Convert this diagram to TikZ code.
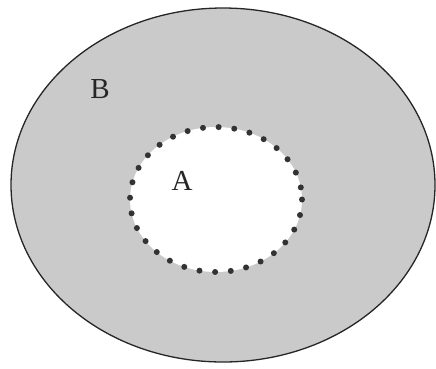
\documentclass[tikz,border=0pt]{standalone}
\usepackage{fontspec}
\setmainfont{Liberation Serif}
\usetikzlibrary{shapes.geometric}
\definecolor{regiongray}{RGB}{202,202,202}
\begin{document}
\begin{tikzpicture}[x=1pt,y=-1pt,
  outerset/.style={ellipse, draw=black!85, line width=1.3pt, fill=regiongray, inner sep=0pt},
  innerset/.style={ellipse, fill=white, inner sep=0pt},
  dotline/.style={line width=6pt, line cap=round, dash pattern=on 0pt off 15.7pt, draw=black!80},
  setlabel/.style={font=\fontsize{29}{29}\selectfont, inner sep=0pt, text=black!85}]
\useasboundingbox (0,0) rectangle (436,368);
\node[outerset, minimum width=424pt, minimum height=354pt] (B) at (223,185) {};
\node[innerset, minimum width=172pt, minimum height=145pt] (A) at (216,199.5) {};
\draw[dotline] (216,199.5) ellipse [x radius=86, y radius=72.5];
\node[setlabel] (labB) at (100,89) {B};
\node[setlabel] (labA) at (182,181) {A};
\end{tikzpicture}
\end{document}
